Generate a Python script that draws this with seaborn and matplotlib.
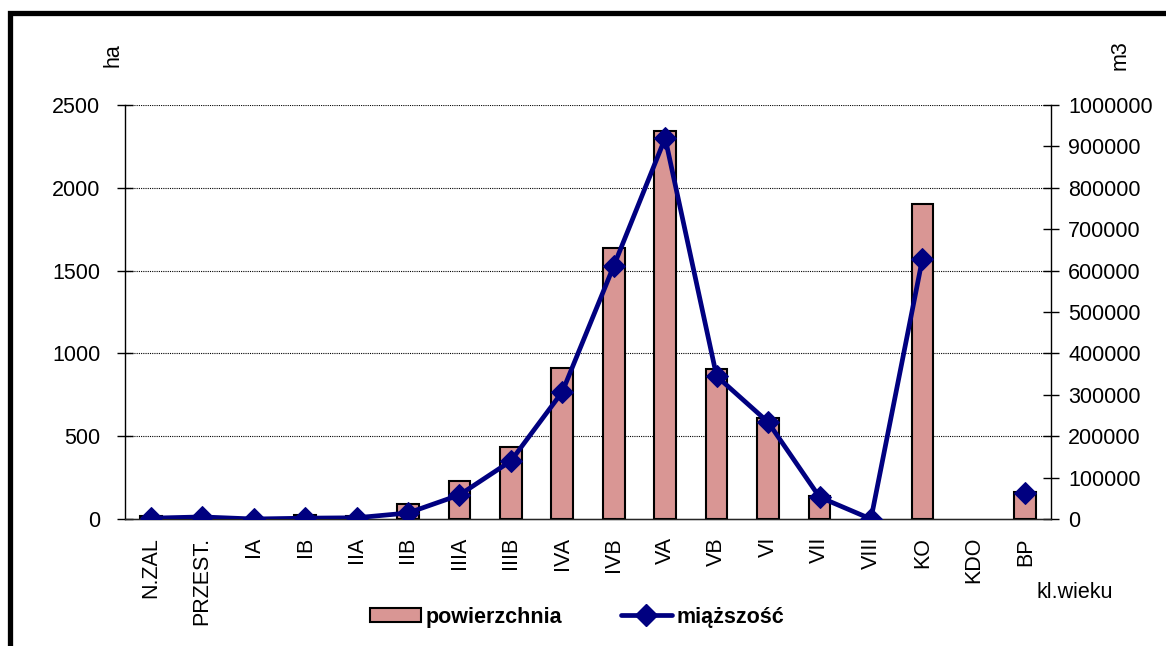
import numpy as np
import pandas as pd
import matplotlib
matplotlib.use("Agg")
import matplotlib.pyplot as plt
import seaborn as sns
from matplotlib.patches import Rectangle
from matplotlib.lines import Line2D
from matplotlib.patches import Patch

categories = ["N.ZAL", "PRZEST.", "IA", "IB", "IIA", "IIB", "IIIA", "IIIB", "IVA",
              "IVB", "VA", "VB", "VI", "VII", "VIII", "KO", "KDO", "BP"]
powierzchnia = [18, np.nan, np.nan, 25, 20, 90, 230, 435, 912, 1636, 2343, 906, 610, 140,
                np.nan, 1902, np.nan, 163]
miazszosc = [2000, 5000, 0, 2000, 3000, 14500, 58000, 140000, 307000, 611000, 920000,
             345000, 234000, 53000, 0, 628000, np.nan, 63000]
left_ticks = [0, 500, 1000, 1500, 2000, 2500]
right_ticks = list(range(0, 1000001, 100000))

sns.set_style("white")
plt.rcParams["font.family"] = ["Liberation Sans", "DejaVu Sans"]
plt.rcParams["text.color"] = "black"
plt.rcParams["xtick.color"] = "black"
plt.rcParams["ytick.color"] = "black"
plt.rcParams["axes.labelcolor"] = "black"

bar_color = "#D99694"
line_color = "#000080"
FS = 15.5

fig = plt.figure(figsize=(11.66, 6.46), dpi=100)
ax = fig.add_axes([125 / 1166, 1 - 519 / 646, (1051 - 125) / 1166, (519 - 105) / 646])

df = pd.DataFrame({"kl": categories, "pow": powierzchnia, "miaz": miazszosc})
sns.barplot(data=df, x="kl", y="pow", ax=ax, color=bar_color, saturation=1,
            width=0.42, edgecolor="black", linewidth=1.5, order=categories)
ax.set_xlim(-0.5, len(categories) - 0.5)
ax.set_ylim(0, 2500)
ax.set_yticks(left_ticks)
ax.set_xlabel("")
ax.set_ylabel("")
for y in left_ticks[1:]:
    ax.axhline(y, color="black", lw=0.8, ls=(0, (1, 1)), zorder=0)

ax2 = ax.twinx()
pos = np.arange(len(categories))
vals = np.array(miazszosc, dtype=float)
valid = ~np.isnan(vals)
seg_id = np.cumsum(~valid)
for s in np.unique(seg_id[valid]):
    m = valid & (seg_id == s)
    sns.lineplot(x=pos[m], y=vals[m], ax=ax2, color=line_color, lw=3.4,
                 marker="D", markersize=11, markeredgecolor=line_color, zorder=5)
ax2.set_ylim(0, 1000000)
ax2.set_yticks(right_ticks)
ax2.set_yticklabels([str(v) for v in right_ticks])
ax2.set_xlim(-0.5, len(categories) - 0.5)

for a in (ax, ax2):
    a.spines["top"].set_visible(False)
ax.spines["right"].set_visible(False)
ax2.spines["left"].set_visible(False)
ax2.spines["right"].set_color("black")
ax.spines["left"].set_color("black")
ax.spines["bottom"].set_color("black")
for sp in ("left", "bottom"):
    ax.spines[sp].set_linewidth(1.0)
ax2.spines["right"].set_linewidth(1.0)

ax.set_xticks(pos)
ax.set_xticklabels(categories, rotation=90, fontsize=FS)
ax.set_xticks(np.arange(-0.5, len(categories), 1), minor=True)
ax.tick_params(axis="x", which="major", length=0, pad=13)
ax.tick_params(axis="x", which="minor", length=6, width=1, direction="out", color="black")
ax.tick_params(axis="y", which="major", direction="inout", length=11.5, width=1,
               color="black", labelsize=FS, pad=12, left=True)
ax2.tick_params(axis="y", which="major", direction="inout", length=11.5, width=1,
                color="black", labelsize=FS, pad=6.5, right=True)

fig.text(113 / 1166, 1 - 55 / 646, "ha", rotation=90, fontsize=FS, ha="center", va="center")
fig.text(1120 / 1166, 1 - 55 / 646, "m3", rotation=90, fontsize=FS, ha="center", va="center")
fig.text(1036 / 1166, 1 - 593 / 646, "kl.wieku", fontsize=FS, ha="left", va="center")

handles = [Patch(facecolor=bar_color, edgecolor="black", linewidth=1.5),
           Line2D([0], [0], color=line_color, lw=3.4, marker="D", markersize=11)]
leg = fig.legend(handles, ["powierzchnia", "miąższość"], loc="center",
                 bbox_to_anchor=(577 / 1166, 1 - 617 / 646), ncol=2, frameon=False,
                 prop={"size": FS, "weight": "bold"}, handlelength=2.4,
                 handleheight=0.6, handletextpad=0.2, columnspacing=2.7)

frame = Rectangle((9.5 / 1166, -0.5), 2.0, 1.5 - 12.5 / 646, transform=fig.transFigure,
                  fill=False, edgecolor="black", linewidth=3.8, clip_on=False)
fig.patches.append(frame)

fig.savefig("out.png", dpi=100)
